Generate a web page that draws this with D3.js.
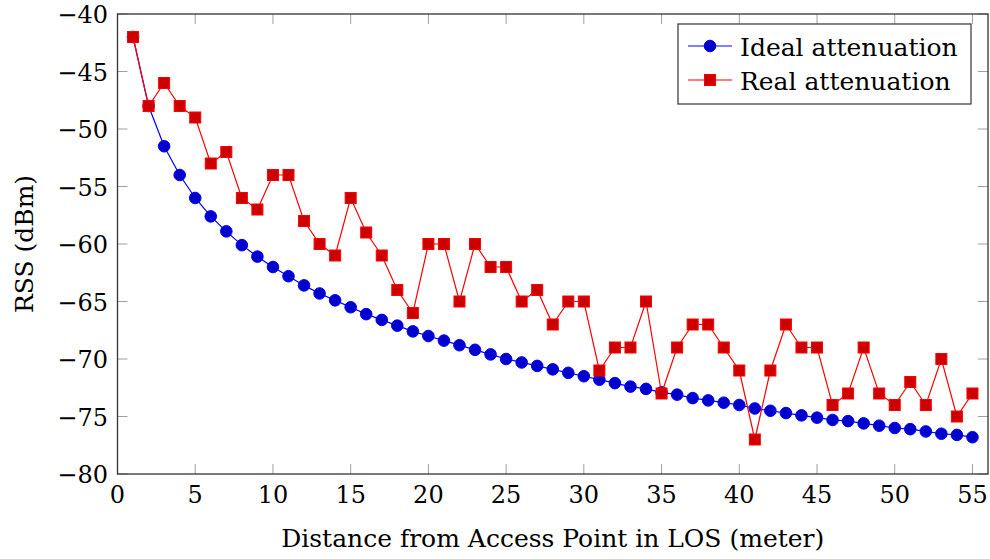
<!DOCTYPE html>
<html>
<head>
<meta charset="utf-8">
<script src="https://cdn.jsdelivr.net/npm/d3@7"></script>
<style>
body { margin: 0; background: #fff; }
text { font-family: "DejaVu Serif", "Liberation Serif", serif; fill: #000; }
</style>
</head>
<body>
<script>
// distance in meters
var distances = [];
for (var i = 1; i <= 55; i++) distances.push(i);

var idealRss = [-42.0, -48.0, -51.5, -54.0, -56.0, -57.6, -58.9, -60.1, -61.1, -62.0,
    -62.8, -63.6, -64.3, -64.9, -65.5, -66.1, -66.6, -67.1, -67.6, -68.0,
    -68.4, -68.8, -69.2, -69.6, -70.0, -70.3, -70.6, -70.9, -71.2, -71.5,
    -71.8, -72.1, -72.4, -72.6, -72.9, -73.1, -73.4, -73.6, -73.8, -74.0,
    -74.3, -74.5, -74.7, -74.9, -75.1, -75.3, -75.4, -75.6, -75.8, -76.0,
    -76.1, -76.3, -76.5, -76.6, -76.8];

var realRss = [-42, -48, -46, -48, -49, -53, -52, -56, -57, -54,
    -54, -58, -60, -61, -56, -59, -61, -64, -66, -60,
    -60, -65, -60, -62, -62, -65, -64, -67, -65, -65,
    -71, -69, -69, -65, -73, -69, -67, -67, -69, -71,
    -77, -71, -67, -69, -69, -74, -73, -69, -73, -74,
    -72, -74, -70, -75, -73];

var xTicks = [0, 5, 10, 15, 20, 25, 30, 35, 40, 45, 50, 55];
var yTicks = [-80, -75, -70, -65, -60, -55, -50, -45, -40];

var width = 990, height = 559;
var mLeft = 117.5, mRight = 988, mTop = 14, mBottom = 474;
var tickFont = 24;
var labelFont = 25;

var svg = d3.select("body").append("svg")
    .attr("width", width)
    .attr("height", height);

var xScale = d3.scaleLinear().domain([0, 56]).range([mLeft, mRight]);
var yScale = d3.scaleLinear().domain([-80, -40]).range([mBottom, mTop]);

function fmt(v) { return v < 0 ? "\u2212" + Math.abs(v) : "" + v; }

// tick marks (inside, mirrored)
var tickLen = 10;
var ticks = svg.append("g").attr("stroke", "#a0a0a0").attr("stroke-width", 1);
xTicks.forEach(function(t) {
    var x = xScale(t);
    ticks.append("line").attr("x1", x).attr("x2", x).attr("y1", mBottom).attr("y2", mBottom - tickLen);
    ticks.append("line").attr("x1", x).attr("x2", x).attr("y1", mTop).attr("y2", mTop + tickLen);
});
yTicks.forEach(function(t) {
    var y = yScale(t);
    ticks.append("line").attr("x1", mLeft).attr("x2", mLeft + tickLen).attr("y1", y).attr("y2", y);
    ticks.append("line").attr("x1", mRight).attr("x2", mRight - tickLen).attr("y1", y).attr("y2", y);
});

// tick labels
svg.append("g").selectAll("text")
    .data(xTicks).enter().append("text")
    .attr("x", function(d) { return xScale(d); })
    .attr("y", 503)
    .attr("text-anchor", "middle")
    .style("font-size", tickFont + "px")
    .text(fmt);

svg.append("g").selectAll("text")
    .data(yTicks).enter().append("text")
    .attr("x", 108)
    .attr("y", function(d) { return yScale(d) + 9; })
    .attr("text-anchor", "end")
    .style("font-size", tickFont + "px")
    .text(fmt);

// axis labels
svg.append("text")
    .attr("x", (mLeft + mRight) / 2)
    .attr("y", 547)
    .attr("text-anchor", "middle")
    .style("font-size", labelFont + "px")
    .text("Distance from Access Point in LOS (meter)");

svg.append("text")
    .attr("transform", "translate(33," + ((mTop + mBottom) / 2) + ") rotate(-90)")
    .attr("text-anchor", "middle")
    .style("font-size", labelFont + "px")
    .text("RSS (dBm)");

// series
var line = d3.line()
    .x(function(d, i) { return xScale(distances[i]); })
    .y(function(d) { return yScale(d); });

svg.append("path")
    .datum(idealRss)
    .attr("d", line)
    .attr("fill", "none")
    .attr("stroke", "#0000ff")
    .attr("stroke-width", 1.2);

svg.append("g").selectAll("circle")
    .data(idealRss).enter().append("circle")
    .attr("cx", function(d, i) { return xScale(distances[i]); })
    .attr("cy", function(d) { return yScale(d); })
    .attr("r", 5.8)
    .attr("fill", "#0000cc")
    .attr("stroke", "#0000ff")
    .attr("stroke-width", 1);

svg.append("path")
    .datum(realRss)
    .attr("d", line)
    .attr("fill", "none")
    .attr("stroke", "#ff0000")
    .attr("stroke-width", 1.2);

var sq = 11;
svg.append("g").selectAll("rect")
    .data(realRss).enter().append("rect")
    .attr("x", function(d, i) { return xScale(distances[i]) - sq / 2; })
    .attr("y", function(d) { return yScale(d) - sq / 2; })
    .attr("width", sq)
    .attr("height", sq)
    .attr("fill", "#cc0000")
    .attr("stroke", "#ff0000")
    .attr("stroke-width", 1);

// frame
svg.append("rect")
    .attr("x", mLeft).attr("y", mTop)
    .attr("width", mRight - mLeft).attr("height", mBottom - mTop)
    .attr("fill", "none")
    .attr("stroke", "#333")
    .attr("stroke-width", 1.3);

// legend
var legend = svg.append("g");
legend.append("rect")
    .attr("x", 678).attr("y", 24)
    .attr("width", 293).attr("height", 80)
    .attr("fill", "#fff")
    .attr("stroke", "#333")
    .attr("stroke-width", 1.2);

var legendItems = [
    { label: "Ideal attenuation", color: "#0000ff", fill: "#0000cc", shape: "circle", y: 46 },
    { label: "Real attenuation", color: "#ff0000", fill: "#cc0000", shape: "square", y: 80 }
];
legendItems.forEach(function(it) {
    legend.append("line")
        .attr("x1", 688).attr("x2", 732)
        .attr("y1", it.y).attr("y2", it.y)
        .attr("stroke", it.color).attr("stroke-width", 1.2);
    if (it.shape == "circle") {
        legend.append("circle").attr("cx", 710).attr("cy", it.y).attr("r", 5.8)
            .attr("fill", it.fill).attr("stroke", it.color);
    } else {
        legend.append("rect").attr("x", 710 - sq / 2).attr("y", it.y - sq / 2)
            .attr("width", sq).attr("height", sq)
            .attr("fill", it.fill).attr("stroke", it.color);
    }
    legend.append("text")
        .attr("x", 740).attr("y", it.y + 9.5)
        .style("font-size", labelFont + "px")
        .text(it.label);
});
</script>
</body>
</html>
